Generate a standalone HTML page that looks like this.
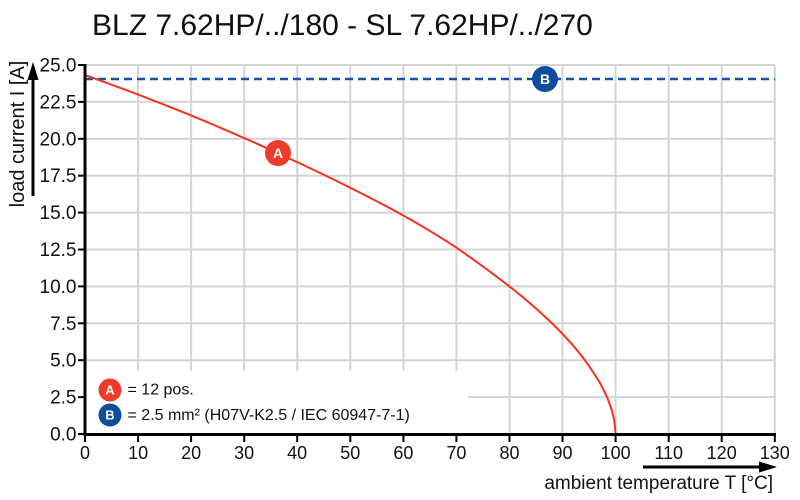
<!DOCTYPE html>
<html><head><meta charset="utf-8"><style>
html,body{margin:0;padding:0;background:#fff;}
svg{display:block;}
text{font-family:"Liberation Sans",Arial,sans-serif;}
</style></head><body>
<svg width="800" height="500" viewBox="0 0 800 500" xmlns="http://www.w3.org/2000/svg">
<rect width="800" height="500" fill="#fff"/>
<text x="92" y="35" font-size="30" fill="#111">BLZ 7.62HP/../180 - SL 7.62HP/../270</text>
<g stroke="#d4d4d4" stroke-width="2">
<line x1="85" y1="65" x2="775" y2="65"/>
<line x1="85" y1="101.9" x2="775" y2="101.9"/>
<line x1="85" y1="138.8" x2="775" y2="138.8"/>
<line x1="85" y1="175.7" x2="775" y2="175.7"/>
<line x1="85" y1="212.6" x2="775" y2="212.6"/>
<line x1="85" y1="249.5" x2="775" y2="249.5"/>
<line x1="85" y1="286.4" x2="775" y2="286.4"/>
<line x1="85" y1="323.3" x2="775" y2="323.3"/>
<line x1="85" y1="360.2" x2="775" y2="360.2"/>
<line x1="85" y1="397.1" x2="775" y2="397.1"/>
<line x1="138.1" y1="65" x2="138.1" y2="434"/>
<line x1="191.1" y1="65" x2="191.1" y2="434"/>
<line x1="244.2" y1="65" x2="244.2" y2="434"/>
<line x1="297.2" y1="65" x2="297.2" y2="434"/>
<line x1="350.3" y1="65" x2="350.3" y2="434"/>
<line x1="403.4" y1="65" x2="403.4" y2="434"/>
<line x1="456.4" y1="65" x2="456.4" y2="434"/>
<line x1="509.5" y1="65" x2="509.5" y2="434"/>
<line x1="562.5" y1="65" x2="562.5" y2="434"/>
<line x1="615.6" y1="65" x2="615.6" y2="434"/>
<line x1="668.7" y1="65" x2="668.7" y2="434"/>
<line x1="721.7" y1="65" x2="721.7" y2="434"/>
<line x1="774.8" y1="65" x2="774.8" y2="434"/>
</g>
<rect x="86.5" y="371" width="381.5" height="62" fill="#fff"/>
<line x1="85" y1="79" x2="775" y2="79" stroke="#1553a6" stroke-width="2.5" stroke-dasharray="8,5"/>
<path fill="none" stroke="#f5321e" stroke-width="2" stroke-linejoin="round"
 d="M85,75.04
 C102.69,81.37 120.37,87.78 138.06,94.52
 C155.75,101.26 173.43,108.22 191.12,115.48
 C208.81,122.74 226.49,130.29 244.18,138.06
 C261.87,145.83 279.55,153.83 297.24,162.12
 C314.93,170.41 332.61,178.89 350.3,187.8
 C367.99,196.71 385.67,205.56 403.36,215.55
 C421.05,225.54 438.73,235.92 456.42,247.73
 C474.11,259.54 491.79,272.89 509.48,286.4
 C518.32,293.16 527.17,300.62 536.01,308.54
 C544.85,316.46 553.7,324.34 562.54,333.93
 C571.38,343.52 580.23,353.1 589.07,366.1
 L594.5,374.2 599.7,382.3 605,392.7 608,399.5 610.3,405.8 612,410.8 613,414.8 614,418.9 614.5,422.3 615.1,427.5 615.6,434"/>
<!-- axes -->
<g stroke="#000" stroke-width="3">
<line x1="85" y1="64" x2="85" y2="436"/>
<line x1="83.5" y1="434.5" x2="776" y2="434.5"/>
</g>
<g stroke="#000" stroke-width="2">
<line x1="78" y1="65" x2="85" y2="65"/>
<line x1="78" y1="101.9" x2="85" y2="101.9"/>
<line x1="78" y1="138.8" x2="85" y2="138.8"/>
<line x1="78" y1="175.7" x2="85" y2="175.7"/>
<line x1="78" y1="212.6" x2="85" y2="212.6"/>
<line x1="78" y1="249.5" x2="85" y2="249.5"/>
<line x1="78" y1="286.4" x2="85" y2="286.4"/>
<line x1="78" y1="323.3" x2="85" y2="323.3"/>
<line x1="78" y1="360.2" x2="85" y2="360.2"/>
<line x1="78" y1="397.1" x2="85" y2="397.1"/>
<line x1="78" y1="434" x2="85" y2="434"/>
<line x1="85" y1="434" x2="85" y2="442"/>
<line x1="138.1" y1="434" x2="138.1" y2="442"/>
<line x1="191.1" y1="434" x2="191.1" y2="442"/>
<line x1="244.2" y1="434" x2="244.2" y2="442"/>
<line x1="297.2" y1="434" x2="297.2" y2="442"/>
<line x1="350.3" y1="434" x2="350.3" y2="442"/>
<line x1="403.4" y1="434" x2="403.4" y2="442"/>
<line x1="456.4" y1="434" x2="456.4" y2="442"/>
<line x1="509.5" y1="434" x2="509.5" y2="442"/>
<line x1="562.5" y1="434" x2="562.5" y2="442"/>
<line x1="615.6" y1="434" x2="615.6" y2="442"/>
<line x1="668.7" y1="434" x2="668.7" y2="442"/>
<line x1="721.7" y1="434" x2="721.7" y2="442"/>
<line x1="774.8" y1="434" x2="774.8" y2="442"/>
</g>
<g font-size="19" fill="#111" text-anchor="end">
<text x="76.5" y="71.5">25.0</text>
<text x="76.5" y="108.4">22.5</text>
<text x="76.5" y="145.3">20.0</text>
<text x="76.5" y="182.2">17.5</text>
<text x="76.5" y="219.1">15.0</text>
<text x="76.5" y="256">12.5</text>
<text x="76.5" y="292.9">10.0</text>
<text x="76.5" y="329.8">7.5</text>
<text x="76.5" y="366.7">5.0</text>
<text x="76.5" y="403.6">2.5</text>
<text x="76.5" y="440.5">0.0</text>
</g>
<g font-size="18" fill="#111" text-anchor="middle">
<text x="85" y="459">0</text>
<text x="138.1" y="459">10</text>
<text x="191.1" y="459">20</text>
<text x="244.2" y="459">30</text>
<text x="297.2" y="459">40</text>
<text x="350.3" y="459">50</text>
<text x="403.4" y="459">60</text>
<text x="456.4" y="459">70</text>
<text x="509.5" y="459">80</text>
<text x="562.5" y="459">90</text>
<text x="615.6" y="459">100</text>
<text x="668.7" y="459">110</text>
<text x="721.7" y="459">120</text>
<text x="774.8" y="459">130</text>
</g>
<!-- y label and arrow -->
<text transform="translate(24,134) rotate(-90)" font-size="20" fill="#111" text-anchor="middle">load current I [A]</text>
<line x1="33" y1="196" x2="33" y2="78" stroke="#000" stroke-width="3"/>
<polygon points="33,62 27.5,80 38.5,80" fill="#000"/>
<!-- x label and arrow -->
<text x="773" y="489" font-size="19" fill="#111" text-anchor="end">ambient temperature T [°C]</text>
<line x1="643" y1="467" x2="762" y2="467" stroke="#000" stroke-width="3"/>
<polygon points="777,467 759,461.5 759,472.5" fill="#000"/>
<!-- markers -->
<circle cx="278" cy="153" r="13" fill="#ee3b2b"/>
<text x="278" y="158" font-size="14" font-weight="bold" fill="#fff" text-anchor="middle">A</text>
<circle cx="545" cy="79" r="13" fill="#0d4d9c"/>
<text x="545" y="84" font-size="14" font-weight="bold" fill="#fff" text-anchor="middle">B</text>
<!-- legend -->
<circle cx="110" cy="390" r="11.5" fill="#ee3b2b"/>
<text x="110" y="394.5" font-size="13" font-weight="bold" fill="#fff" text-anchor="middle">A</text>
<circle cx="110" cy="415" r="11.5" fill="#0d4d9c"/>
<text x="110" y="419.5" font-size="13" font-weight="bold" fill="#fff" text-anchor="middle">B</text>
<text x="127.5" y="394.5" font-size="16" fill="#111">= 12 pos.</text>
<text x="127.5" y="420" font-size="16" fill="#111">= 2.5 mm² (H07V-K2.5 / IEC 60947-7-1)</text>
</svg>
</body></html>
